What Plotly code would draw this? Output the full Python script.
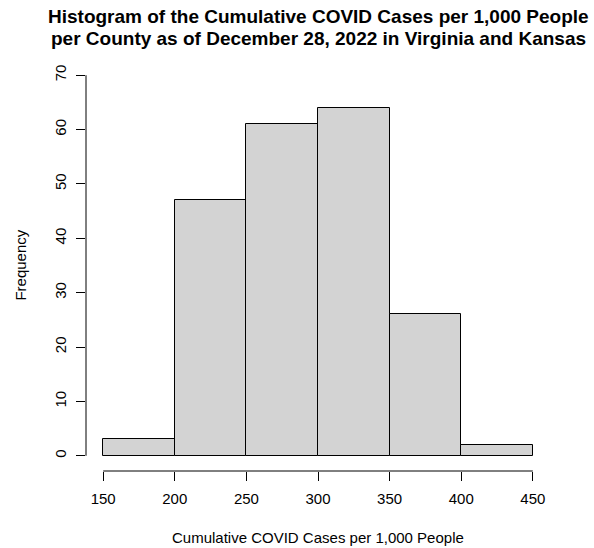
import plotly.graph_objects as go

# Bin edges and counts for the histogram
bin_edges = [150, 200, 250, 300, 350, 400, 450]
counts = [3, 47, 61, 64, 26, 2]
x_ticks = [150, 200, 250, 300, 350, 400, 450]
y_ticks = [0, 10, 20, 30, 40, 50, 60, 70]

title_lines = ["Histogram of the Cumulative COVID Cases per 1,000 People",
               "per County as of December 28, 2022 in Virginia and Kansas"]
x_title = "Cumulative COVID Cases per 1,000 People"
y_title = "Frequency"

centers = [(a + b) / 2 for a, b in zip(bin_edges[:-1], bin_edges[1:])]
widths = [b - a for a, b in zip(bin_edges[:-1], bin_edges[1:])]

FONT = "Liberation Sans, Arial, sans-serif"

fig = go.Figure(go.Bar(
    x=centers, y=counts, width=widths,
    marker=dict(color="#d3d3d3", line=dict(color="black", width=1)),
    hoverinfo="x+y",
))

# R-style padded ranges (4% on each side)
xpad = (x_ticks[-1] - x_ticks[0]) * 0.04
ypad = (y_ticks[-1] - y_ticks[0]) * 0.04

fig.update_layout(
    width=594, height=548,
    margin=dict(l=86, r=44, t=60, b=77),
    paper_bgcolor="white", plot_bgcolor="white",
    showlegend=False, bargap=0,
    font=dict(family=FONT, size=15, color="black"),
    xaxis=dict(range=[x_ticks[0] - xpad, x_ticks[-1] + xpad],
               tickvals=x_ticks, ticks="outside", ticklen=9, tickcolor="black",
               ticklabelstandoff=5,
               showline=False, showgrid=False, zeroline=False),
    yaxis=dict(range=[y_ticks[0] - ypad, y_ticks[-1] + ypad],
               tickvals=y_ticks, ticks="outside", ticklen=9, tickcolor="black",
               tickangle=-90, ticklabelstandoff=4,
               showline=False, showgrid=False, zeroline=False),
)

# Two-line bold title
for text, ypos in zip(title_lines, [1.107, 1.0535]):
    fig.add_annotation(text=text, xref="paper", yref="paper", x=0.5, y=ypos,
                       xanchor="center", yanchor="middle", showarrow=False,
                       font=dict(family=FONT, size=19, color="black", weight="bold"))

# Axis titles
fig.add_annotation(text=x_title, xref="paper", yref="paper", x=0.5, y=-0.1606,
                   xanchor="center", yanchor="middle", showarrow=False,
                   font=dict(size=15))
fig.add_annotation(text=y_title, xref="paper", yref="paper", x=-0.142, y=0.5,
                   xanchor="center", yanchor="middle", textangle=-90,
                   showarrow=False, font=dict(size=15))

# Axis lines spanning only the tick range, as in base R graphics
fig.add_shape(type="line", xref="x", yref="paper",
              x0=x_ticks[0], x1=x_ticks[-1], y0=0, y1=0,
              line=dict(color="black", width=1))
fig.add_shape(type="line", xref="paper", yref="y",
              x0=0, x1=0, y0=y_ticks[0], y1=y_ticks[-1],
              line=dict(color="black", width=1))

fig.write_html("out.html")
